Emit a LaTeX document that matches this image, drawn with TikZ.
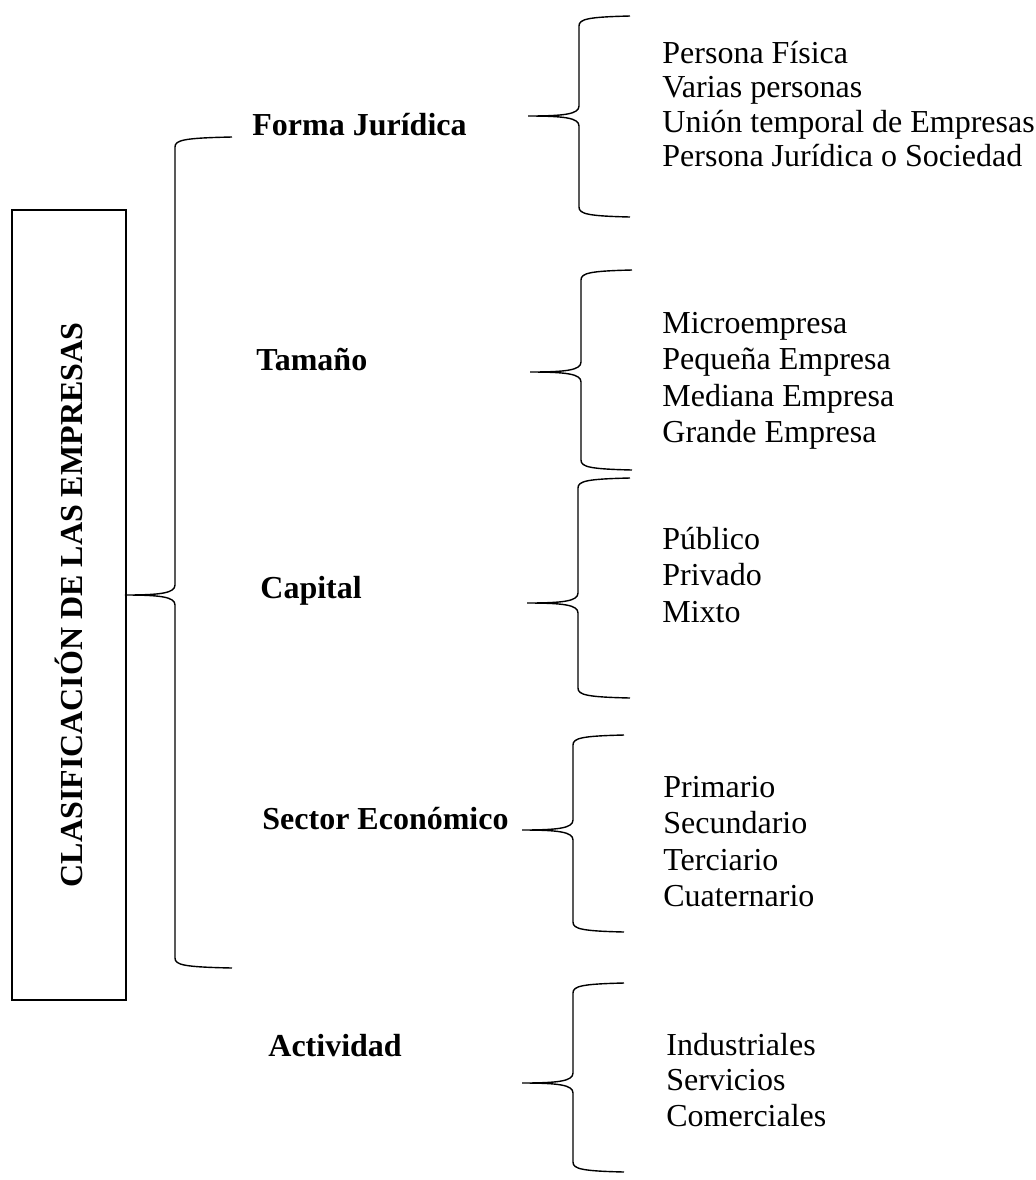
\documentclass[tikz,border=0pt]{standalone}
\usepackage{fontspec}
\setmainfont{Liberation Serif}
\tikzstyle{llave} = [line width=0.7pt]
\tikzstyle{cat} = [font=\bfseries, inner sep=0pt, anchor=base west]
\tikzstyle{item} = [inner sep=0pt, anchor=base west]
\tikzstyle{titulo} = [draw, line width=1pt, minimum width=57pt, minimum height=395pt, inner sep=0pt]
% #1 tip x, #2 tip y, #3 spine x, #4 top y, #5 bottom y, #6 end x
\newcommand{\llave}[6]{%
  \draw[llave] (#6,#4) .. controls (#3+9,#4+1) and (#3,#4+3) .. (#3,#4+10)
    -- (#3,#2-10) .. controls (#3,#2-2) and (#3-14,#2) .. (#1,#2)
    .. controls (#3-14,#2) and (#3,#2+2) .. (#3,#2+10)
    -- (#3,#5-10) .. controls (#3,#5-3) and (#3+9,#5-1) .. (#6,#5);}

\begin{document}
\begin{tikzpicture}[x=0.5pt,y=-0.5pt]
    \fontsize{16}{18}\selectfont
    \useasboundingbox (0,0) rectangle (1036,1180);

    \node[titulo] (box) at (69,605) {\rotatebox{90}{\bfseries CLASIFICACIÓN DE LAS EMPRESAS}};

    % categorias
    \node[cat] (forma) at (252,135) {Forma Jurídica};
    \node[cat] (tam) at (256,370) {Tamaño};
    \node[cat] (cap) at (260,598) {Capital};
    \node[cat] (sec) at (262,829) {Sector Económico};
    \node[cat] (act) at (268,1056) {Actividad};

    % listas
    \foreach \t [count=\i] in {Persona Física, Varias personas, Unión temporal de Empresas, Persona Jurídica o Sociedad}
        \node[item] (f\i) at (662,63+34.5*\i-34.5) {\t};
    \foreach \t [count=\i] in {Microempresa, Pequeña Empresa, Mediana Empresa, Grande Empresa}
        \node[item] (t\i) at (662,333+36.5*\i-36.5) {\t};
    \foreach \t [count=\i] in {Público, Privado, Mixto}
        \node[item] (c\i) at (662,549+36.5*\i-36.5) {\t};
    \foreach \t [count=\i] in {Primario, Secundario, Terciario, Cuaternario}
        \node[item] (s\i) at (663,797+36.5*\i-36.5) {\t};
    \foreach \t [count=\i] in {Industriales, Servicios, Comerciales}
        \node[item] (a\i) at (666,1055+35.5*\i-35.5) {\t};

    % llaves
    \llave{125}{595}{175}{137}{968}{232}
    \llave{528}{116}{579}{16}{217}{630}
    \llave{530}{372}{581}{270}{470}{632}
    \llave{527}{603}{578}{478}{698}{630}
    \llave{522}{830}{573}{735}{932}{624}
    \llave{522}{1083}{573}{983}{1172}{624}

\end{tikzpicture}
\end{document}
